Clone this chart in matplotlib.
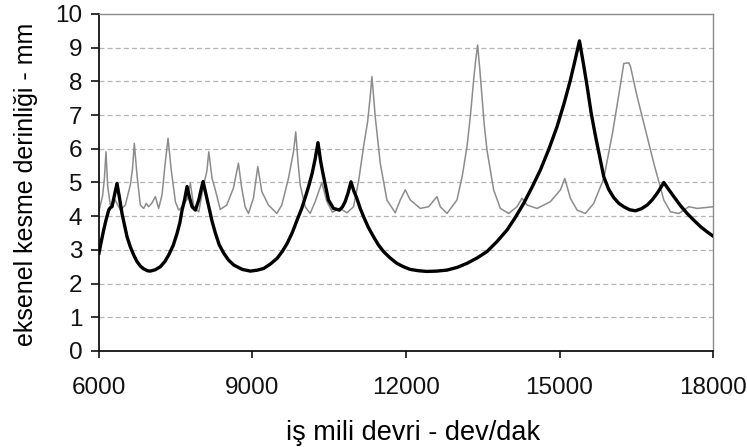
#!/usr/bin/env python3
"""
Stability lobe chart: axial depth of cut vs spindle speed (two lobe curves).
"""

import matplotlib
matplotlib.use("Agg")
import matplotlib.pyplot as plt

# black (thick) lobe curve
black_rpm = [6000, 6045, 6092, 6140, 6190, 6220, 6254, 6300, 6352, 6400, 6450, 6500,
             6548, 6610, 6678, 6740, 6808, 6870, 6950, 7004, 7100, 7200, 7290, 7363,
             7450, 7526, 7580, 7624, 7675, 7721, 7770, 7819, 7884, 7950, 7990, 8034,
             8090, 8146, 8210, 8276, 8350, 8439, 8530, 8635, 8800, 8960, 9100, 9221,
             9350, 9482, 9580, 9677, 9780, 9873, 9960, 10036, 10100, 10166, 10225, 10280,
             10335, 10390, 10440, 10485, 10583, 10700, 10760, 10811, 10870, 10925, 10980,
             11040, 11100, 11170, 11260, 11365, 11460, 11561, 11690, 11822, 11950, 12083,
             12250, 12409, 12600, 12801, 13000, 13192, 13390, 13583, 13780, 13975, 14140,
             14300, 14460, 14626, 14790, 14953, 15090, 15213, 15300, 15390, 15470, 15540,
             15620, 15700, 15780, 15865, 15960, 16060, 16160, 16256, 16370, 16484, 16600,
             16713, 16810, 16909, 16980, 17038, 17130, 17234, 17360, 17495, 17625, 17756,
             17880, 18000]
black_depth = [2.9, 3.25, 3.59, 3.9, 4.18, 4.25, 4.28, 4.6, 4.97, 4.55, 4.08, 3.72,
               3.39, 3.1, 2.85, 2.66, 2.52, 2.44, 2.38, 2.37, 2.41, 2.5, 2.66, 2.85,
               3.13, 3.49, 3.8, 4.18, 4.5, 4.88, 4.55, 4.28, 4.18, 4.48, 4.75, 5.03,
               4.65, 4.28, 3.85, 3.49, 3.15, 2.9, 2.7, 2.55, 2.42, 2.37, 2.4, 2.45,
               2.58, 2.75, 2.95, 3.19, 3.52, 3.89, 4.22, 4.58, 4.9, 5.27, 5.7, 6.18,
               5.6, 5.17, 4.8, 4.48, 4.23, 4.18, 4.28, 4.43, 4.7, 5.02, 4.75,
               4.53, 4.25, 3.99, 3.68, 3.39, 3.15, 2.95, 2.76, 2.6, 2.5, 2.42,
               2.38, 2.36, 2.37, 2.4, 2.48, 2.6, 2.76, 2.95, 3.25, 3.59, 3.97,
               4.38, 4.85, 5.37, 5.98, 6.66, 7.35, 8.04, 8.6, 9.2, 8.5, 7.85,
               7.05, 6.4, 5.8, 5.17, 4.8, 4.55, 4.38, 4.28, 4.19, 4.16, 4.22,
               4.33, 4.48, 4.68, 4.85, 5.0, 4.8, 4.58, 4.32, 4.08, 3.88, 3.69,
               3.54, 3.41]

# gray (thin) lobe curve
gray_rpm = [6000, 6070, 6105, 6137, 6170, 6221, 6260, 6310, 6360, 6420, 6515, 6613,
            6655, 6690, 6743, 6808, 6873, 6925, 6970, 7030, 7102, 7166, 7232, 7297,
            7350, 7408, 7493, 7558, 7640, 7720, 7786, 7852, 7950, 8048, 8110, 8146,
            8210, 8270, 8370, 8497, 8627, 8725, 8790, 8856, 8921, 9018, 9104, 9182,
            9312, 9476, 9573, 9703, 9801, 9845, 9890, 9932, 10030, 10127, 10225, 10356,
            10450, 10560, 10714, 10845, 10975, 11080, 11170, 11250, 11301, 11334, 11370,
            11399, 11497, 11627, 11790, 11888, 11986, 12083, 12279, 12442, 12605, 12670,
            12801, 12996, 13100, 13192, 13260, 13322, 13360, 13400, 13440, 13485, 13530,
            13583, 13713, 13844, 14006, 14169, 14267, 14365, 14561, 14822, 15018, 15103,
            15213, 15344, 15506, 15669, 15865, 16040, 16191, 16256, 16354, 16387, 16517,
            16680, 16843, 17038, 17169, 17332, 17527, 17690, 17886, 18000]
gray_depth = [4.15, 4.6, 5.1, 5.91, 4.9, 4.33, 4.3, 4.5, 4.35, 4.18, 4.33, 4.93,
              5.4, 6.16, 5.22, 4.33, 4.23, 4.38, 4.28, 4.38, 4.58, 4.23, 4.63, 5.62,
              6.31, 5.42, 4.43, 4.18, 4.3, 4.5, 4.97, 4.28, 4.13, 4.93, 5.35, 5.91,
              5.12, 4.8, 4.2, 4.33, 4.83, 5.57, 4.83, 4.28, 4.08, 4.53, 5.47, 4.73,
              4.33, 4.08, 4.33, 5.12, 5.91, 6.5, 5.6, 4.93, 4.28, 4.08, 4.43, 5.0,
              4.45, 4.12, 4.23, 4.1, 4.28, 5.1, 6.06, 6.8, 7.55, 8.14, 7.5,
              6.95, 5.57, 4.48, 4.1, 4.48, 4.78, 4.48, 4.23, 4.28, 4.58, 4.28,
              4.08, 4.48, 5.2, 6.06, 7.0, 8.04, 8.6, 9.08, 8.4, 7.55, 6.7,
              5.96, 4.78, 4.23, 4.08, 4.28, 4.53, 4.33, 4.23, 4.43, 4.78, 5.12,
              4.53, 4.18, 4.08, 4.38, 5.12, 6.5, 7.9, 8.53, 8.55, 8.44, 7.55,
              6.56, 5.57, 4.48, 4.13, 4.08, 4.28, 4.23, 4.26, 4.28]

x_ticks = [6000, 9000, 12000, 15000, 18000]
y_ticks = list(range(0, 11))


def main():
    plt.rcParams['font.family'] = ['Liberation Sans', 'DejaVu Sans']

    fig = plt.figure(figsize=(7.47, 4.47), dpi=100)
    ax = fig.add_axes([0.1325, 0.2148, 0.8220, 0.7540])

    # dashed horizontal grid (Excel style)
    for v in y_ticks[1:-1]:
        ax.axhline(v, color='#b4b4b4', lw=0.9, ls=(0, (4, 2.5)), zorder=1)

    ax.plot(gray_rpm, gray_depth, color='#8c8c8c', lw=1.1, zorder=2)
    ax.plot(black_rpm, black_depth, color='black', lw=2.4, zorder=3,
            solid_joinstyle='round')

    ax.set_xlim(6000, 18000)
    ax.set_ylim(0, 10)
    ax.set_xticks(x_ticks)
    ax.set_yticks(y_ticks)

    for side in ['top', 'right']:
        ax.spines[side].set_color('#8a8a8a')
        ax.spines[side].set_linewidth(1.0)
    for side in ['left', 'bottom']:
        ax.spines[side].set_color('#111111')
        ax.spines[side].set_linewidth(1.3)

    ax.tick_params(axis='x', direction='out', length=5, width=1.2, pad=14,
                   labelsize=17.5, colors='#111111')
    ax.tick_params(axis='y', direction='out', length=6, width=1.2, pad=6,
                   labelsize=17.5, colors='#111111')

    ax.set_xlabel('iş mili devri - dev/dak', fontsize=19.5)
    ax.set_ylabel('eksenel kesme derinliği - mm', fontsize=18)
    ax.xaxis.set_label_coords(0.511, -0.205)
    ax.yaxis.set_label_coords(-0.1, 0.495)

    fig.savefig('out.png', dpi=100)
    return 0


if __name__ == "__main__":
    main()
